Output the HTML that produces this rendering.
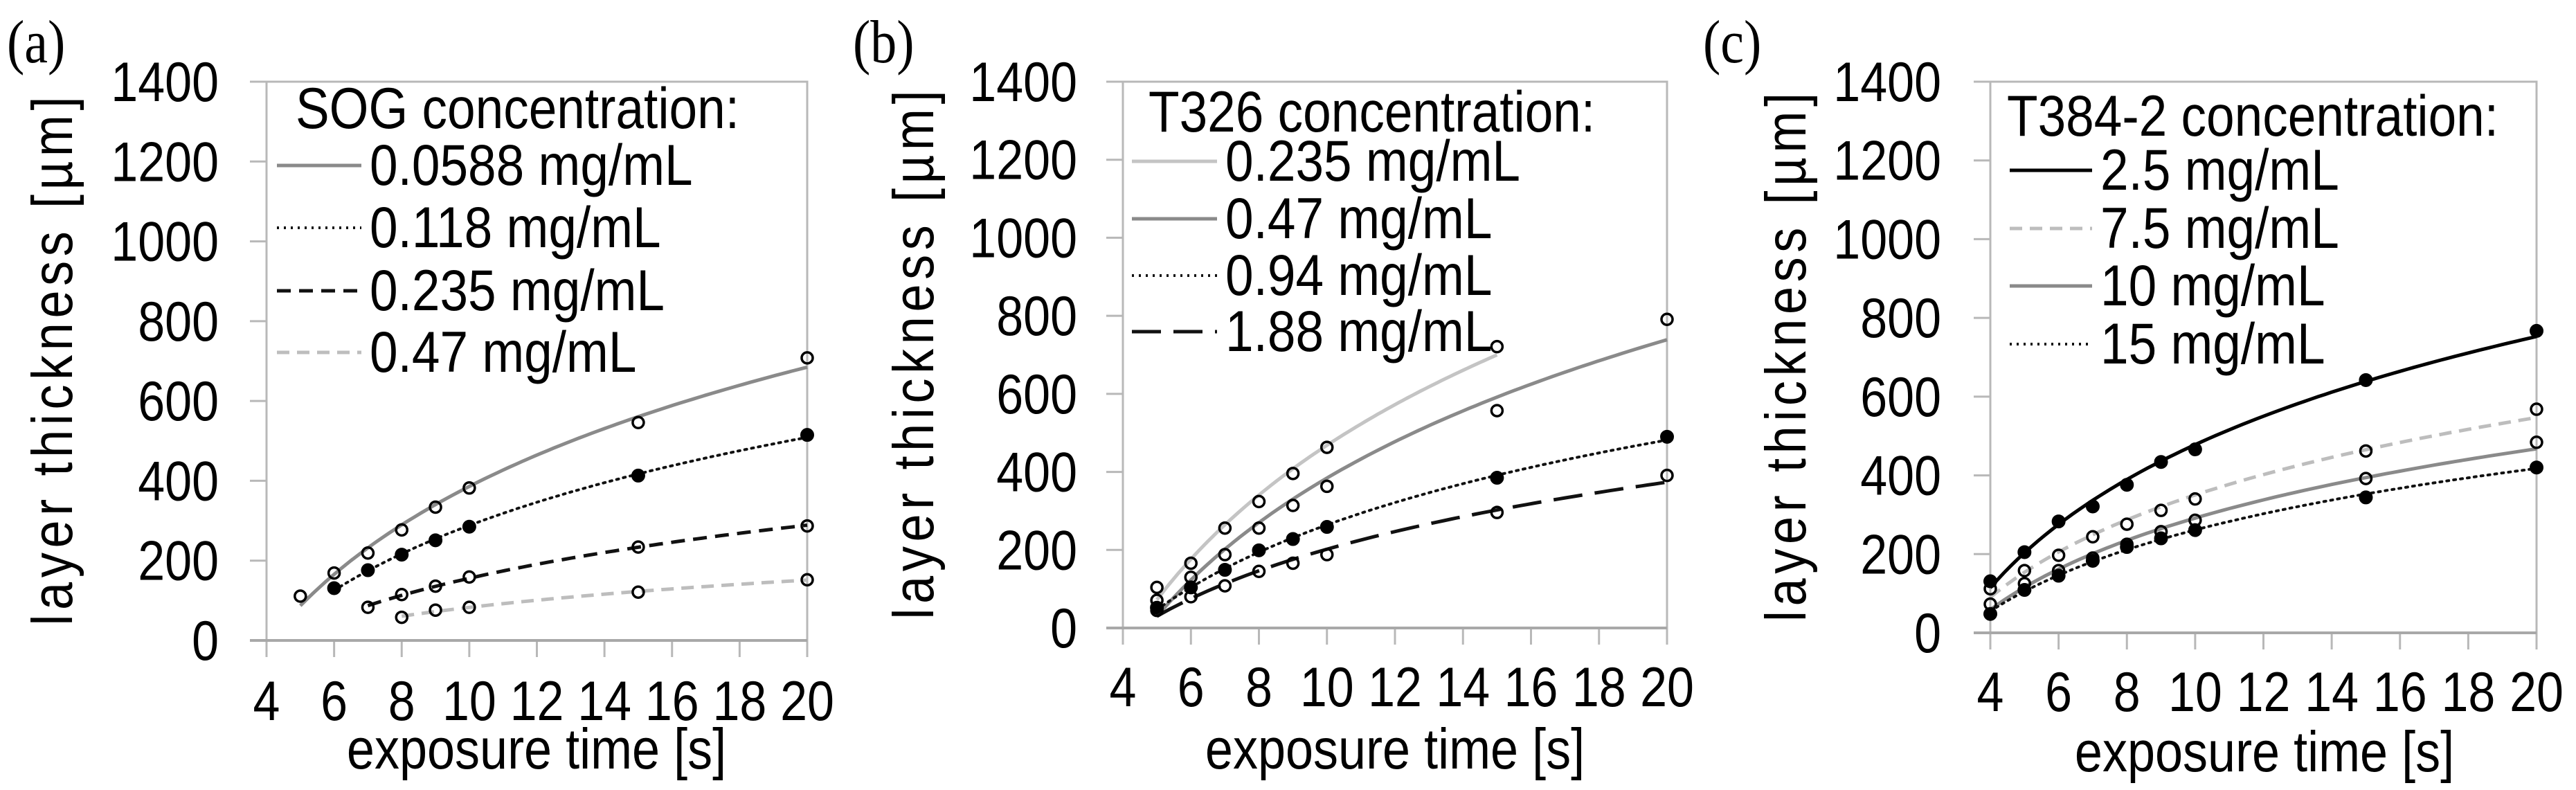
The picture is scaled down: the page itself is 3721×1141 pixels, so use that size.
<!DOCTYPE html>
<html><head><meta charset="utf-8"><style>
html,body{margin:0;padding:0;background:#fff;}
svg{display:block;font-family:"Liberation Sans",Arial,sans-serif;}
</style></head><body>
<svg id="chart" width="3721" height="1141" viewBox="0 0 3721 1141" xmlns="http://www.w3.org/2000/svg">
<rect width="3721" height="1141" fill="#fff"/>
</svg>
<script>
// ---------- shared ----------
const yTicks = [0,200,400,600,800,1000,1200,1400];
const xTicks = [4,6,8,10,12,14,16,18,20];

// ---------- panel a: SOG ----------
const aLabels = ["0.0588 mg/mL","0.118 mg/mL","0.235 mg/mL","0.47 mg/mL"];
const aX1 = [5,6,7,8,9,10,15,20];
const aY1 = [111,169,219,277,334,382,546,708];
const aX2 = [6,7,8,9,10,15,20];
const aY2 = [131,176,215,251,285,413,515];
const aX3 = [7,8,9,10,15,20];
const aY3 = [83,115,136,159,234,287];
const aX4 = [8,9,10,15,20];
const aY4 = [58,76,83,121,152];

// ---------- panel b: T326 ----------
const bLabels = ["0.235 mg/mL","0.47 mg/mL","0.94 mg/mL","1.88 mg/mL"];
const bX1 = [5,6,7,8,9,10,15];
const bY1 = [104,166,256,324,396,463,721];
const bX2 = [5,6,7,8,9,10,15,20];
const bY2 = [71,130,188,256,314,363,557,791];
const bX3 = [5,6,7,8,9,10,15,20];
const bY3 = [52,104,149,199,228,259,385,490];
const bX4 = [5,6,7,8,9,10,15,20];
const bY4 = [45,80,108,145,166,188,296,391];

// ---------- panel c: T384-2 ----------
const cLabels = ["2.5 mg/mL","7.5 mg/mL","10 mg/mL","15 mg/mL"];
const cX = [4,5,6,7,8,9,10,15,20];
const cY1 = [131,205,283,321,376,434,466,642,767];
const cY2 = [112,158,197,244,276,311,340,462,568];
const cY3 = [73,125,158,190,225,257,286,392,484];
const cY4 = [48,109,145,183,218,240,261,344,420];

const NS="http://www.w3.org/2000/svg";
const svg=document.getElementById('chart');
function mk(tag,attrs,parent){const e=document.createElementNS(NS,tag);for(const k in attrs)e.setAttribute(k,attrs[k]);(parent||svg).appendChild(e);return e;}
const VS=1.15;
function txt(x,y,attrs,parent,str){const a=Object.assign({x:0,y:0,transform:`translate(${x},${y}) scale(1,${VS})`},attrs);const e=mk('text',a,parent);e.textContent=str;return e;}

const STY={
 gray:{stroke:"#8a8a8a",dash:"none",w:5},
 light:{stroke:"#c4c4c4",dash:"none",w:5},
 dot:{stroke:"#111",dash:"3 7",w:4},
 dash:{stroke:"#111",dash:"20 12",w:5},
 ldash:{stroke:"#bdbdbd",dash:"18 11",w:5},
 long:{stroke:"#111",dash:"42 18",w:5},
 black:{stroke:"#000",dash:"none",w:5}
};

function logFit(xs,ys){const n=xs.length;let sx=0,sy=0,sxx=0,sxy=0;
 for(let i=0;i<n;i++){const l=Math.log(xs[i]);sx+=l;sy+=ys[i];sxx+=l*l;sxy+=l*ys[i];}
 const a=(n*sxy-sx*sy)/(n*sxx-sx*sx);const c=(sy-a*sx)/n;return x=>a*Math.log(x)+c;}

function panel(p){
 const g=mk('g',{});
 
 
 const X=v=>p.L+(v-4)/(16)*(p.R-p.L);
 const Y=v=>p.B-v/1400*(p.B-p.T);
 const fr=mk('rect',{x:p.L,y:p.T,width:p.R-p.L,height:p.B-p.T,fill:"none",stroke:"#b8b8b8","stroke-width":3},g);
 
 
 yTicks.forEach(t=>{
  const y=Y(t);
  const tk=mk('line',{x1:p.L-24,x2:p.L,y1:y,y2:y,stroke:"#b8b8b8","stroke-width":3},g);
  
  
  const tl=txt(p.ylx,y+28,{"text-anchor":"end","font-size":70,fill:"#000"},g,String(t));
  
  
 });
 xTicks.forEach(t=>{
  const x=X(t);
  const tk=mk('line',{x1:x,x2:x,y1:p.B,y2:p.B+24,stroke:"#b8b8b8","stroke-width":3},g);
  
  
  const tl=txt(x,p.xly,{"text-anchor":"middle","font-size":70,fill:"#000"},g,String(t));
  
  
 });
 const ax=mk('line',{x1:p.L-24,x2:p.R,y1:p.B,y2:p.B,stroke:"#a8a8a8","stroke-width":4},g);
 
 
 const yt=mk('text',{x:0,y:0,transform:`translate(${p.ytx+26},${(p.T+p.B)/2}) rotate(-90) scale(1,${VS})`,"text-anchor":"middle","font-size":72,textLength:764,lengthAdjust:"spacing"},g);
 yt.textContent="layer thickness [µm]";
 
 
 const xt=txt(p.xtx,p.xty,{"text-anchor":"middle","font-size":72},g,"exposure time [s]");
 
 
 const pl=txt(p.plx,90,{"font-size":76,"font-family":"Liberation Serif, serif"},g,"("+p.id+")");
 
 
 p.series.forEach((s,si)=>{
  const st=STY[s.style];
  const f=logFit(s.x,s.y);
  const x0=s.x[0],x1=s.x[s.x.length-1];let d="";
  for(let k=0;k<=80;k++){const xv=x0+(x1-x0)*k/80;d+=(k?"L":"M")+X(xv).toFixed(1)+","+Y(f(xv)).toFixed(1);}
  const ln=mk('path',{d:d,fill:"none",stroke:st.stroke,"stroke-width":st.w,"stroke-dasharray":st.dash,"stroke-linecap":s.style==="dot"?"round":"butt"},g);
  
  
  s.x.forEach((xv,i)=>{
   const c=mk('circle',{cx:X(xv),cy:Y(s.y[i]),r:s.fill?9:8,fill:s.fill?"#000":"none",stroke:"#000","stroke-width":s.fill?2:3.5},g);
   
   
  });
  const by=p.legY[si+1];
  const lg=mk('line',{x1:p.lsx1,x2:p.lsx2,y1:by-28,y2:by-28,stroke:st.stroke,"stroke-width":st.w,"stroke-dasharray":st.dash},g);
  
  
  const lt=txt(p.ltx,by,{"font-size":73},g,p.labels[si]);
  
  
 });
 const lh=txt(p.lhx,p.legY[0],{"font-size":73},g,p.title);
 
 
}

panel({id:"a",L:385,R:1166,T:118,B:925,ylx:316,xly:1040,ytx:78,xtx:775,xty:1110,plx:10,
 title:"SOG concentration:",labels:aLabels,lhx:427,legY:[185,267,357,448,537],lsx1:400,lsx2:522,ltx:534,
 series:[{x:aX1,y:aY1,style:"gray",fill:false},{x:aX2,y:aY2,style:"dot",fill:true},{x:aX3,y:aY3,style:"dash",fill:false},{x:aX4,y:aY4,style:"ldash",fill:false}]});
panel({id:"b",L:1622,R:2408,T:118,B:907,ylx:1556,xly:1020,ytx:1322,xtx:2015,xty:1110,plx:1232,
 title:"T326 concentration:",labels:bLabels,lhx:1659,legY:[190,261,344,426,507],lsx1:1635,lsx2:1758,ltx:1770,
 series:[{x:bX1,y:bY1,style:"light",fill:false},{x:bX2,y:bY2,style:"gray",fill:false},{x:bX3,y:bY3,style:"dot",fill:true},{x:bX4,y:bY4,style:"long",fill:false}]});
panel({id:"c",L:2875,R:3664,T:118,B:914,ylx:2804,xly:1027,ytx:2582,xtx:3271,xty:1114,plx:2460,
 title:"T384-2 concentration:",labels:cLabels,lhx:2899,legY:[196,274,358,441,525],lsx1:2903,lsx2:3022,ltx:3034,
 series:[{x:cX,y:cY1,style:"black",fill:true},{x:cX,y:cY2,style:"ldash",fill:false},{x:cX,y:cY3,style:"gray",fill:false},{x:cX,y:cY4,style:"dot",fill:true}]});
</script>
</body></html>
